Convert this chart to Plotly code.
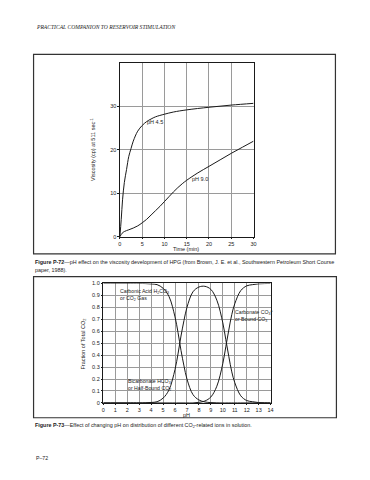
import plotly.graph_objects as go

W, H = 370, 480

# ---- Figure P-72 data (viscosity vs time) ----
time_ph45 = [0, 0.3, 0.6, 1, 1.5, 2, 2.5, 3, 4, 5, 6, 7, 8, 10, 12, 15, 20, 25, 30]
visc_ph45 = [0, 4, 8.5, 12.5, 15.5, 18.5, 20.3, 22, 24.3, 25.6, 26.5, 27.1, 27.6, 28.2, 28.7, 29.2, 29.8, 30.3, 30.7]
time_ph90 = [0, 0.5, 1, 2, 3, 4, 5, 6, 7, 8, 9, 10, 11, 12, 13, 14, 15, 17.5, 20, 22.5, 25, 27.5, 30]
visc_ph90 = [0, 0.8, 1.2, 1.6, 2.0, 2.5, 3.2, 4.0, 5.0, 6.0, 7.0, 8.1, 9.2, 10.3, 11.3, 12.2, 13.0, 14.7, 16.2, 17.7, 19.2, 20.6, 22.0]
time_ticks = [0, 5, 10, 15, 20, 25, 30]
visc_ticks = [0, 10, 20, 30]

# ---- Figure P-73 data (fraction of total CO2 vs pH) ----
ph = [0, 1, 2, 3, 3.5, 4, 4.5, 5, 5.5, 6, 6.25, 6.5, 6.75, 7, 7.5, 8, 8.5, 9, 9.5, 10, 10.25, 10.5, 10.75, 11, 11.5, 12, 12.5, 13, 13.5, 14]
frac_h2co3 = [1, 1, 1, 1, 0.999, 0.996, 0.99, 0.96, 0.89, 0.72, 0.59, 0.44, 0.31, 0.20, 0.07, 0.025, 0.008, 0.003, 0.001, 0, 0, 0, 0, 0, 0, 0, 0, 0, 0, 0]
frac_hco3 = [0, 0, 0, 0, 0.001, 0.004, 0.01, 0.04, 0.11, 0.28, 0.41, 0.56, 0.69, 0.80, 0.93, 0.97, 0.976, 0.95, 0.86, 0.67, 0.53, 0.39, 0.26, 0.17, 0.06, 0.02, 0.01, 0.003, 0.001, 0]
frac_co3 = [0, 0, 0, 0, 0, 0, 0, 0, 0, 0, 0, 0, 0, 0, 0, 0.005, 0.016, 0.05, 0.14, 0.33, 0.47, 0.61, 0.74, 0.83, 0.94, 0.98, 0.99, 0.997, 0.999, 1]
ph_ticks = list(range(0, 15))
frac_ticks = [0, 0.1, 0.2, 0.3, 0.4, 0.5, 0.6, 0.7, 0.8, 0.9, 1.0]
frac_ticktext = ["0", "0.1", "0.2", "0.3", "0.4", "0.5", "0.6", "0.7", "0.8", "0.9", "1.0"]

LINE = "#1a1a1a"
GRID = "#9a9a9a"
FONT = "Liberation Sans"

def px(x):
    return x / W

def py(y):
    return 1 - y / H

fig = go.Figure()
fig.add_trace(go.Scatter(x=time_ph45, y=visc_ph45, mode="lines", line=dict(color=LINE, width=1, shape="spline"),
                         xaxis="x", yaxis="y", showlegend=False))
fig.add_trace(go.Scatter(x=time_ph90, y=visc_ph90, mode="lines", line=dict(color=LINE, width=1, shape="spline"),
                         xaxis="x", yaxis="y", showlegend=False))
for ys in (frac_h2co3, frac_hco3, frac_co3):
    fig.add_trace(go.Scatter(x=ph, y=ys, mode="lines", line=dict(color=LINE, width=1, shape="spline"),
                             xaxis="x2", yaxis="y2", showlegend=False))

axis_common = dict(showline=True, linecolor=LINE, linewidth=1, mirror=True, showgrid=True,
                   gridcolor=GRID, gridwidth=0.7, zeroline=False, ticks="outside", ticklen=1.5,
                   tickcolor=LINE, tickfont=dict(family=FONT, size=5.5, color="#222"))

fig.update_layout(
    width=W, height=H, margin=dict(l=0, r=0, t=0, b=0),
    paper_bgcolor="white", plot_bgcolor="white",
    font=dict(family=FONT, color="#222"),
    xaxis=dict(domain=[px(119.5), px(255)], range=[0, 30], tickvals=time_ticks, anchor="y", **axis_common),
    yaxis=dict(domain=[py(236.7), py(60.7)], range=[0, 40], tickvals=visc_ticks, anchor="x", **axis_common),
    xaxis2=dict(domain=[px(102.7), px(272.3)], range=[0, 14], tickvals=ph_ticks, anchor="y2", **axis_common),
    yaxis2=dict(domain=[py(405), py(284)], range=[0, 1.0], tickvals=frac_ticks, ticktext=frac_ticktext,
                anchor="x2", **axis_common),
)

shapes = [
    dict(type="rect", xref="paper", yref="paper", x0=px(32), x1=px(338), y0=py(254), y1=py(52),
         line=dict(color="#333", width=1.2)),
    dict(type="rect", xref="paper", yref="paper", x0=px(32), x1=px(339), y0=py(420), y1=py(277),
         line=dict(color="#333", width=1.2)),
]
fig.update_layout(shapes=shapes)

ann = []
def note(text, x, y, size=5.5, xanchor="left", yanchor="middle", angle=0, xref="paper", yref="paper", family=FONT):
    ann.append(dict(text=text, x=x, y=y, xref=xref, yref=yref, showarrow=False, xanchor=xanchor,
                    yanchor=yanchor, textangle=angle, font=dict(size=size, family=family, color="#222"),
                    align="left"))

note("<i>PRACTICAL COMPANION TO RESERVOIR STIMULATION</i>", px(32), py(24), size=5.6, family="Liberation Serif")
# Chart 1 texts
note("pH 4.5", 5.6, 26.4, size=5.5, xref="x", yref="y")
note("pH 9.0", 15.8, 13.3, size=5.5, xref="x", yref="y")
note("Viscosity (cp) at 511 sec<sup>-1</sup>", px(92), py(148), size=5.5, xanchor="center", angle=-90)
note("Time (min)", px(187), py(249), size=5.5, xanchor="center")
note("<b>Figure P-72</b>\u2014pH effect on the viscosity development of HPG (from Brown, J. E. et al., Southwestern Petroleum Short Course",
     px(31), py(262), size=5.4)
note("paper, 1988).", px(31), py(270), size=5.4)
# Chart 2 texts
note("Carbonic Acid H<sub>2</sub>CO<sub>3</sub><br>or CO<sub>2</sub> Gas", 1.25, 0.9, size=5.2, xref="x2", yref="y2")
note("Bicarbonate HCO<sub>3</sub><sup>-</sup><br>or Half-Bound CO<sub>2</sub>", 1.9, 0.15, size=5.2, xref="x2", yref="y2")
note("Carbonate CO<sub>3</sub><sup>=</sup><br>or Bound CO<sub>3</sub>", 10.85, 0.73, size=5.2, xref="x2", yref="y2")
note("Fraction of Total CO<sub>2</sub>", px(83), py(345), size=5.5, xanchor="center", angle=-90)
note("pH", px(187), py(417.5), size=5.5, xanchor="center")
note("<b>Figure P-73</b>\u2014Effect of changing pH on distribution of different CO<sub>2</sub>-related ions in solution.",
     px(31), py(428), size=5.4)
note("P\u201372", px(32), py(461), size=5.2)
fig.update_layout(annotations=ann)

fig.write_html("out.html", config={"displayModeBar": False}, post_script="document.body.style.margin='0';")
